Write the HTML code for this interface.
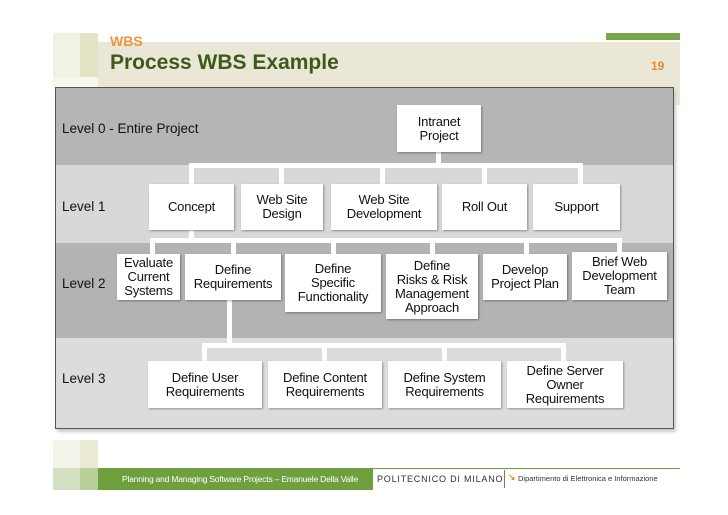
<!DOCTYPE html>
<html><head><meta charset="utf-8"><style>
*{margin:0;padding:0;box-sizing:border-box}
body{width:728px;height:515px;background:#fff;position:relative;overflow:hidden;font-family:"Liberation Sans",sans-serif}
.a{position:absolute}
.bx{position:absolute;background:#fff;display:flex;align-items:center;justify-content:center;text-align:center;font-size:13px;line-height:14px;color:#111;box-shadow:1px 1px 2px rgba(0,0,0,.35);letter-spacing:-.2px}
.w{position:absolute;background:#fff}
.lv{position:absolute;left:62px;font-size:13.5px;color:#111}
</style></head><body>
<!-- header -->
<div class="a" style="left:53px;top:33px;width:27px;height:44px;background:#f1f1e4"></div>
<div class="a" style="left:80px;top:33px;width:18px;height:44px;background:#e3e3c6"></div>
<div class="a" style="left:53px;top:77px;width:45px;height:10px;background:#f6f6ee"></div>
<div class="a" style="left:98px;top:42px;width:582px;height:63px;background:#ebe7d6"></div>
<div class="a" style="left:606px;top:33px;width:74px;height:7px;background:#77a548"></div>
<div class="a" style="left:110px;top:33px;font-size:14px;font-weight:bold;color:#f0943a">WBS</div>
<div class="a" style="left:110px;top:51px;font-size:21px;font-weight:bold;color:#3d5a1c">Process WBS Example</div>
<div class="a" style="left:651px;top:59px;font-size:12px;font-weight:bold;color:#e88a2e">19</div>
<!-- diagram -->
<div class="a" style="left:55px;top:87px;width:619px;height:342px;border:1px solid #555;background:#dcdcdc;box-shadow:2px 3px 3px #ccc"></div>
<div class="a" style="left:56px;top:88px;width:617px;height:77px;background:#b5b5b5"></div>
<div class="a" style="left:56px;top:165px;width:617px;height:78px;background:#d8d8d8"></div>
<div class="a" style="left:56px;top:243px;width:617px;height:95px;background:#b3b3b3"></div>
<div class="lv" style="top:121px">Level 0 - Entire Project</div>
<div class="lv" style="top:199px">Level 1</div>
<div class="lv" style="top:276px">Level 2</div>
<div class="lv" style="top:371px">Level 3</div>
<!-- connectors -->
<div class="w" style="left:436px;top:150px;width:5px;height:18px"></div>
<div class="w" style="left:189px;top:163px;width:394px;height:5px"></div>
<div class="w" style="left:189px;top:163px;width:5px;height:22px"></div>
<div class="w" style="left:279px;top:163px;width:5px;height:22px"></div>
<div class="w" style="left:380px;top:163px;width:5px;height:22px"></div>
<div class="w" style="left:482px;top:163px;width:5px;height:22px"></div>
<div class="w" style="left:578px;top:163px;width:5px;height:22px"></div>
<div class="w" style="left:189px;top:228px;width:5px;height:14px"></div>
<div class="w" style="left:150px;top:238px;width:472px;height:5px"></div>
<div class="w" style="left:150px;top:238px;width:5px;height:16px"></div>
<div class="w" style="left:231px;top:238px;width:5px;height:16px"></div>
<div class="w" style="left:331px;top:238px;width:5px;height:16px"></div>
<div class="w" style="left:430px;top:238px;width:5px;height:16px"></div>
<div class="w" style="left:524px;top:238px;width:5px;height:16px"></div>
<div class="w" style="left:617px;top:238px;width:5px;height:14px"></div>
<div class="w" style="left:227px;top:298px;width:5px;height:48px"></div>
<div class="w" style="left:202px;top:343px;width:364px;height:5px"></div>
<div class="w" style="left:202px;top:343px;width:5px;height:18px"></div>
<div class="w" style="left:322px;top:343px;width:5px;height:18px"></div>
<div class="w" style="left:442px;top:343px;width:5px;height:18px"></div>
<div class="w" style="left:561px;top:343px;width:5px;height:18px"></div>
<!-- boxes -->
<div class="bx" style="left:397px;top:105px;width:84px;height:47px">Intranet<br>Project</div>
<div class="bx" style="left:149px;top:184px;width:85px;height:46px">Concept</div>
<div class="bx" style="left:241px;top:184px;width:82px;height:46px">Web Site<br>Design</div>
<div class="bx" style="left:331px;top:184px;width:106px;height:46px">Web Site<br>Development</div>
<div class="bx" style="left:442px;top:184px;width:85px;height:46px">Roll Out</div>
<div class="bx" style="left:533px;top:184px;width:87px;height:46px">Support</div>
<div class="bx" style="left:117px;top:254px;width:63px;height:46px">Evaluate<br>Current<br>Systems</div>
<div class="bx" style="left:185px;top:254px;width:96px;height:46px">Define<br>Requirements</div>
<div class="bx" style="left:285px;top:254px;width:96px;height:58px">Define<br>Specific<br>Functionality</div>
<div class="bx" style="left:386px;top:254px;width:92px;height:65px">Define<br>Risks &amp; Risk<br>Management<br>Approach</div>
<div class="bx" style="left:483px;top:254px;width:84px;height:46px">Develop<br>Project Plan</div>
<div class="bx" style="left:572px;top:252px;width:95px;height:48px">Brief Web<br>Development<br>Team</div>
<div class="bx" style="left:148px;top:361px;width:114px;height:47px">Define User<br>Requirements</div>
<div class="bx" style="left:268px;top:361px;width:114px;height:47px">Define Content<br>Requirements</div>
<div class="bx" style="left:388px;top:361px;width:113px;height:47px">Define System<br>Requirements</div>
<div class="bx" style="left:507px;top:361px;width:116px;height:47px">Define Server<br>Owner<br>Requirements</div>
<!-- footer -->
<div class="a" style="left:53px;top:440px;width:27px;height:28px;background:#f4f4ea"></div>
<div class="a" style="left:80px;top:440px;width:18px;height:28px;background:#ebebd5"></div>
<div class="a" style="left:53px;top:468px;width:27px;height:22px;background:#d3e0c2"></div>
<div class="a" style="left:80px;top:468px;width:18px;height:22px;background:#b8cf9a"></div>
<div class="a" style="left:98px;top:468px;width:275px;height:22px;background:#6fa040"></div>
<div class="a" style="left:373px;top:468px;width:307px;height:1px;background:#6fa040"></div>
<div class="a" style="left:122px;top:474px;font-size:8.5px;color:#fff;letter-spacing:-.2px">Planning and Managing Software Projects – Emanuele Della Valle</div>
<div class="a" style="left:377px;top:474px;font-size:9px;color:#333;letter-spacing:.8px">POLITECNICO DI MILANO</div>
<div class="a" style="left:504px;top:470px;width:1px;height:18px;background:#777"></div>
<div class="a" style="left:508px;top:472px;font-size:9px;color:#e88a2e;font-weight:bold">↘</div>
<div class="a" style="left:518px;top:474px;font-size:7.5px;color:#333">Dipartimento di Elettronica e Informazione</div>
</body></html>
